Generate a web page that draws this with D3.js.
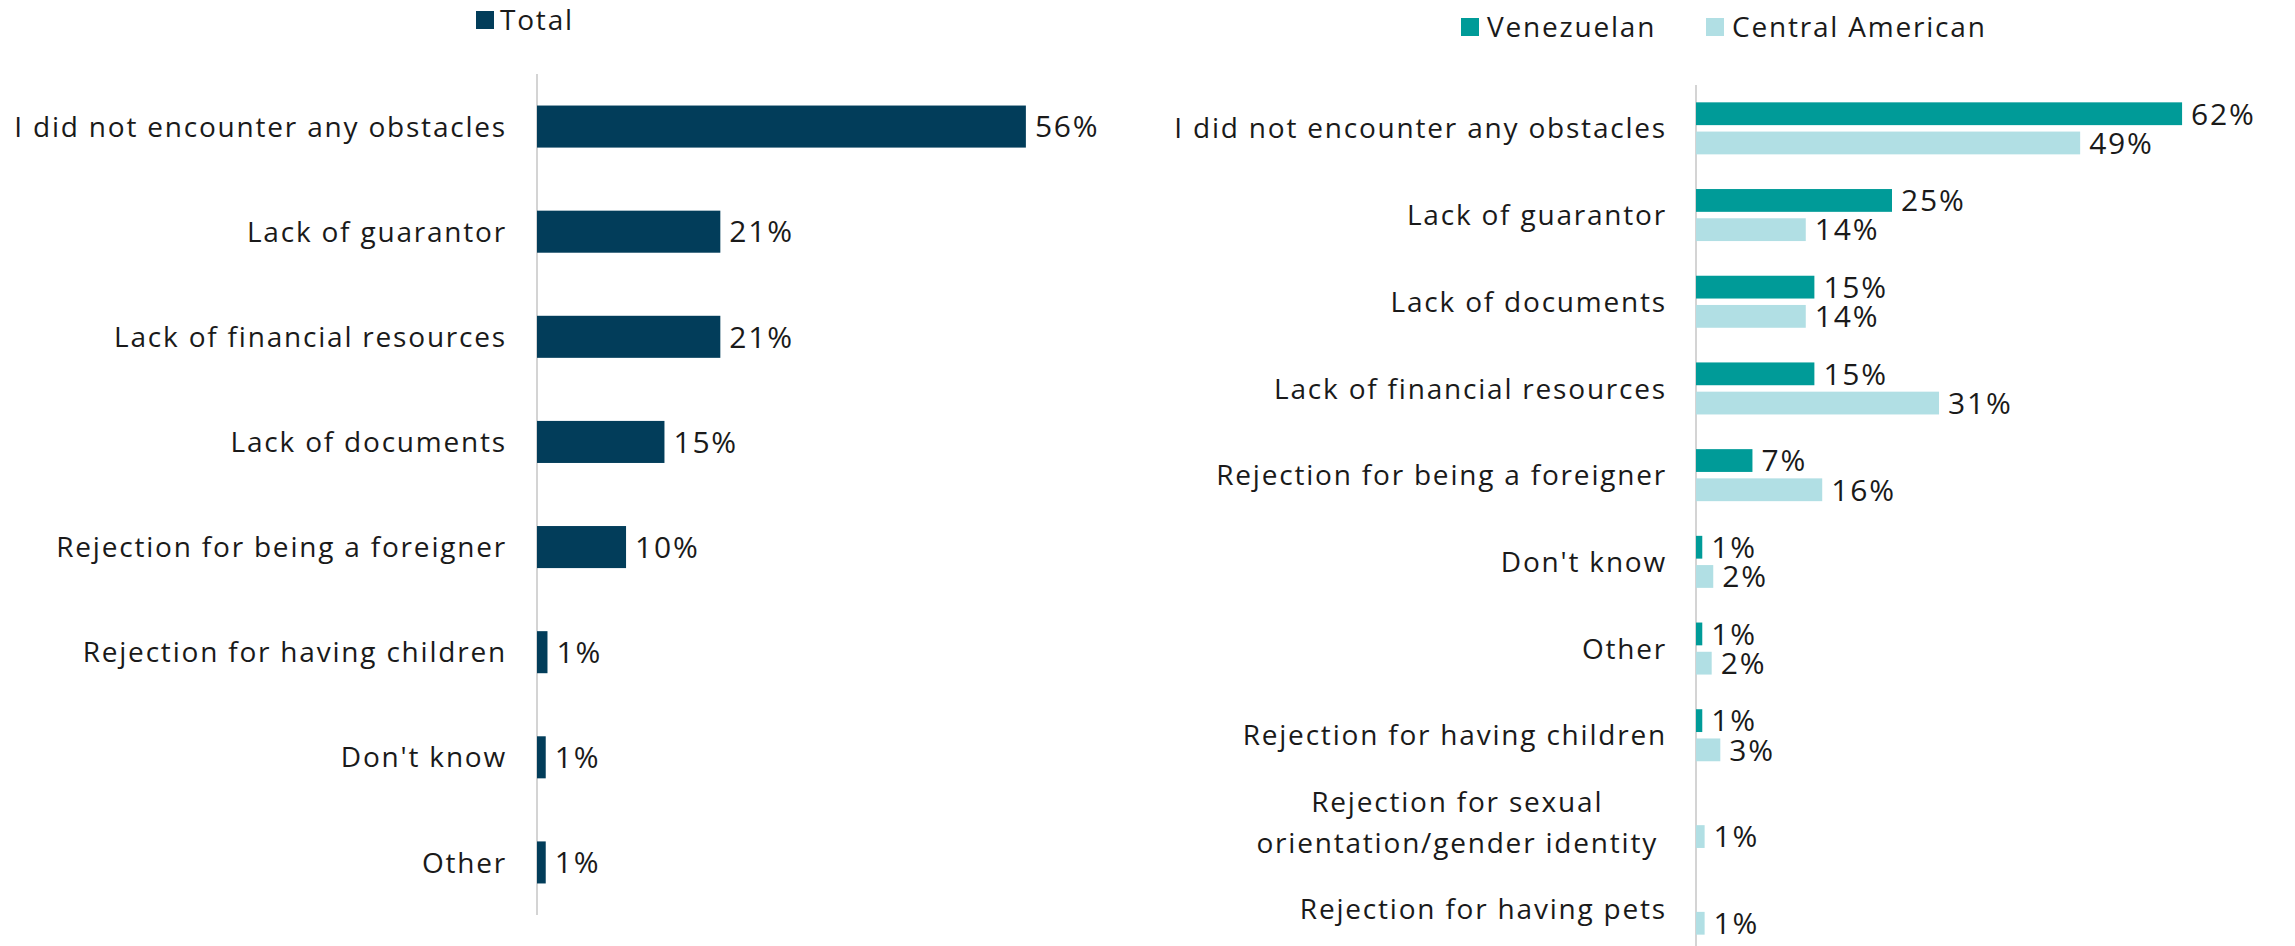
<!DOCTYPE html>
<html>
<head>
<meta charset="utf-8">
<script src="https://cdn.jsdelivr.net/npm/d3@7"></script>
<style>
  html, body { margin: 0; padding: 0; background: #fff; }
  svg { display: block; }
  text { font-family: "Open Sans", "Lato", sans-serif; fill: #1a1a1a; letter-spacing: 1.8px; }
</style>
</head>
<body>
<svg id="chart" width="2295" height="946"></svg>
<script>
// ---------- DATA ----------
const leftCategories = [
  "I did not encounter any obstacles",
  "Lack of guarantor",
  "Lack of financial resources",
  "Lack of documents",
  "Rejection for being a foreigner",
  "Rejection for having children",
  "Don't know",
  "Other"
];
const totalValues = [56, 21, 21, 14.6, 10.2, 1.2, 1, 1];

const rightCategories = [
  "I did not encounter any obstacles",
  "Lack of guarantor",
  "Lack of documents",
  "Lack of financial resources",
  "Rejection for being a foreigner",
  "Don't know",
  "Other",
  "Rejection for having children",
  "Rejection for sexual orientation/gender identity",
  "Rejection for having pets"
];
const rightLabelLines = {
  "Rejection for sexual orientation/gender identity": ["Rejection for sexual", "orientation/gender identity"]
};
const venezuelanValues = [62, 25, 15.1, 15.1, 7.2, 0.8, 0.8, 0.8, null, null];
const centralAmericanValues = [49, 14, 14, 31, 16.1, 2.2, 2, 3.1, 1.1, 1.1];

const seriesNames = ["Venezuelan", "Central American"];
const colors = { total: "#023d5a", ven: "#009b98", ca: "#b1dfe4" };

// ---------- SETUP ----------
const svg = d3.select("#chart");
const FS = 28;
const VFS = 30;
const fmt = v => Math.round(v) + "%";

// ---------- LEFT CHART ----------
const lx = d3.scaleLinear().domain([0, 60]).range([537, 537 + 60 * 8.73]);
const ly = d3.scaleBand().domain(leftCategories).range([74, 915]).paddingInner(0.6).paddingOuter(0.3);
const gL = svg.append("g");

gL.append("line").attr("x1", lx(0)).attr("x2", lx(0)).attr("y1", 74).attr("y2", 915)
  .attr("stroke", "#d4d4d4").attr("stroke-width", 2);

gL.selectAll("rect.bar").data(leftCategories).join("rect")
  .attr("x", lx(0)).attr("y", d => ly(d))
  .attr("width", (d, i) => lx(totalValues[i]) - lx(0))
  .attr("height", ly.bandwidth())
  .attr("fill", colors.total);

gL.selectAll("text.val").data(leftCategories).join("text")
  .attr("x", (d, i) => lx(totalValues[i]) + 9)
  .attr("y", d => ly(d) + ly.bandwidth() / 2)
  .attr("dy", "0.36em").attr("font-size", VFS)
  .text((d, i) => fmt(totalValues[i]));

const lyAxis = d3.axisLeft(ly).tickSize(0).tickPadding(0);
const axL = gL.append("g").attr("transform", `translate(${lx(0) - 30},0)`).call(lyAxis);
axL.select(".domain").remove();
axL.selectAll("text").attr("font-size", FS).attr("font-family", null).attr("fill", "#1a1a1a").attr("dy", "0.36em");

// left legend
svg.append("rect").attr("x", 476).attr("y", 11).attr("width", 18).attr("height", 18).attr("fill", colors.total);
svg.append("text").attr("x", 500).attr("y", 20).attr("dy", "0.36em").attr("font-size", FS).text("Total");

// ---------- RIGHT CHART ----------
const rx = d3.scaleLinear().domain([0, 70]).range([1696, 1696 + 70 * 7.84]);
const ry = d3.scaleBand().domain(rightCategories).range([85, 952]).paddingInner(0.4).paddingOuter(0.2);
const rsub = d3.scaleBand().domain(seriesNames).range([0, ry.bandwidth()]).paddingInner(0.22);
const gR = svg.append("g");

gR.append("line").attr("x1", rx(0)).attr("x2", rx(0)).attr("y1", 85).attr("y2", 946)
  .attr("stroke", "#d4d4d4").attr("stroke-width", 2);

const seriesData = [venezuelanValues, centralAmericanValues];
const seriesColors = [colors.ven, colors.ca];
seriesNames.forEach((s, si) => {
  const vals = seriesData[si];
  const items = rightCategories.map((c, i) => ({ c, v: vals[i] })).filter(d => d.v != null);
  gR.selectAll(`rect.s${si}`).data(items).join("rect")
    .attr("x", rx(0)).attr("y", d => ry(d.c) + rsub(s))
    .attr("width", d => rx(d.v) - rx(0))
    .attr("height", rsub.bandwidth())
    .attr("fill", seriesColors[si]);
  gR.selectAll(`text.v${si}`).data(items).join("text")
    .attr("x", d => rx(d.v) + 9)
    .attr("y", d => ry(d.c) + rsub(s) + rsub.bandwidth() / 2)
    .attr("dy", "0.36em").attr("font-size", VFS)
    .text(d => fmt(d.v));
});

const labelRight = rx(0) - 29;
rightCategories.forEach(c => {
  const cy = ry(c) + ry.bandwidth() / 2;
  const lines = rightLabelLines[c];
  if (!lines) {
    gR.append("text").attr("x", labelRight).attr("y", cy).attr("dy", "0.36em")
      .attr("text-anchor", "end").attr("font-size", FS).text(c);
  } else {
    const t = gR.append("text").attr("text-anchor", "middle").attr("font-size", FS);
    const lh = 41;
    lines.forEach((ln, k) => {
      t.append("tspan").attr("x", 0).attr("y", cy + (k - (lines.length - 1) / 2) * lh)
        .attr("dy", "0.36em").text(ln);
    });
    const w = t.node().getBBox().width;
    t.selectAll("tspan").attr("x", labelRight - 9 - w / 2);
  }
});

// right legend
const legItems = [
  { name: seriesNames[0], color: colors.ven, x: 1461 },
  { name: seriesNames[1], color: colors.ca, x: 1706 }
];
legItems.forEach(l => {
  svg.append("rect").attr("x", l.x).attr("y", 18).attr("width", 18).attr("height", 18).attr("fill", l.color);
  svg.append("text").attr("x", l.x + 26).attr("y", 27).attr("dy", "0.36em").attr("font-size", FS).text(l.name);
});
</script>
</body>
</html>
